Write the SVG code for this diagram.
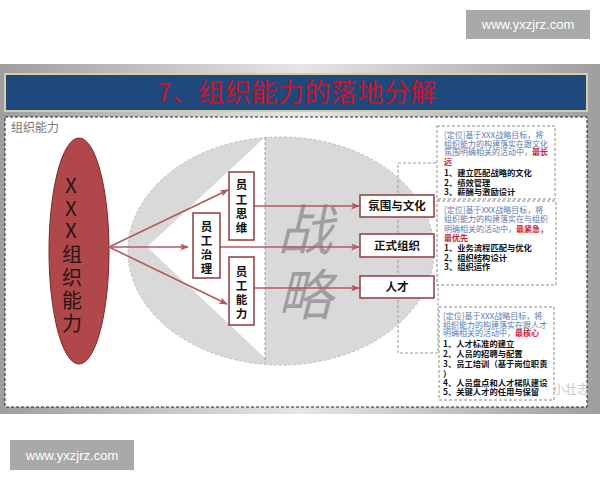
<svg xmlns="http://www.w3.org/2000/svg" width="600" height="480" viewBox="0 0 600 480">
<defs>
<linearGradient id="slideBg" x1="0" y1="0" x2="1" y2="0">
<stop offset="0" stop-color="#9e9e9e"/>
<stop offset="0.5" stop-color="#e6e6e6"/>
<stop offset="1" stop-color="#9e9e9e"/>
</linearGradient>
<marker id="arr" viewBox="0 0 10 8" refX="9" refY="4" markerWidth="9" markerHeight="7" markerUnits="userSpaceOnUse" orient="auto">
<path d="M0,0 L10,4 L0,8 L2.5,4 Z" fill="#b3595e"/>
</marker>
<style>
.wm{fill:#a9a9a9}
.wmt{font-family:"Liberation Sans",Arial,sans-serif;font-size:13px;fill:#ffffff;text-anchor:middle}
.cjk{font-family:"Noto Sans CJK SC","Liberation Sans",sans-serif}
.box{fill:#ffffff;stroke:#8c3c40;stroke-width:1.5}
.bt{font-family:"Noto Sans CJK SC",sans-serif;font-size:11.5px;font-weight:bold;fill:#111;text-anchor:middle}
.con{stroke:#b3595e;stroke-width:1.6;fill:none;marker-end:url(#arr)}
.note{fill:#ffffff;stroke:#8a8a8a;stroke-width:1;stroke-dasharray:3 2}
.nb{font-family:"Noto Sans CJK SC","Liberation Sans",sans-serif;font-size:8px;fill:#5a7ab3}
.nr{fill:#d4202e;font-weight:bold}
.nl{font-family:"Noto Sans CJK SC","Liberation Sans",sans-serif;font-size:8.3px;font-weight:bold;fill:#111}
</style>
</defs>
<rect width="600" height="480" fill="#ffffff"/>
<g id="watermark-top"><rect class="wm" x="466" y="10" width="124" height="29"/><text class="wmt" x="528" y="29">www.yxzjrz.com</text></g>
<g id="watermark-bottom"><rect class="wm" x="10" y="440" width="124" height="30"/><text class="wmt" x="72" y="460">www.yxzjrz.com</text></g>
<rect x="0" y="64" width="600" height="350" fill="url(#slideBg)"/>
<g id="title">
<rect x="5" y="74" width="582" height="37" fill="#1f497d" stroke="#d3cfa8" stroke-width="2"/>
<text class="cjk" x="297" y="102" font-size="26" fill="#c8142a" text-anchor="middle" letter-spacing="0.5">7、组织能力的落地分解</text>
</g>
<rect x="5" y="117" width="582" height="290" fill="#ffffff" stroke="#222" stroke-width="1" stroke-dasharray="3 2"/>
<text class="cjk" x="11" y="132" font-size="12" fill="#777">组织能力</text>
<g id="strategy">
<ellipse cx="281" cy="251" rx="153" ry="114" fill="#d9d9d9" stroke="#bdbdbd" stroke-width="1" stroke-dasharray="3 2"/>
<polygon points="147,247 265,137 265,358" fill="#ffffff"/>
<line x1="265" y1="137" x2="265" y2="363" stroke="#a0a0a0" stroke-width="1" stroke-dasharray="3 2"/>
<text class="cjk" x="305" y="250" font-size="55" font-style="italic" fill="#9e9e9e" text-anchor="middle">战</text>
<text class="cjk" x="305" y="315" font-size="55" font-style="italic" fill="#9e9e9e" text-anchor="middle">略</text>
</g>
<rect x="398" y="163" width="40" height="190" fill="none" stroke="#9a9a9a" stroke-width="1" stroke-dasharray="3 2"/>
<g id="xxx-org">
<ellipse cx="79" cy="251" rx="30" ry="113" fill="#b0474a" stroke="#7a2a2d" stroke-width="1"/>
<text class="cjk" font-size="20" fill="#2a1515" text-anchor="middle"><tspan x="71" y="193">X</tspan><tspan x="71" y="216">X</tspan><tspan x="71" y="238">X</tspan><tspan x="72" y="262">组</tspan><tspan x="72" y="285">织</tspan><tspan x="72" y="308">能</tspan><tspan x="72" y="331">力</tspan></text>
</g>
<g id="connectors">
<line class="con" x1="109" y1="247" x2="228" y2="190"/>
<line class="con" x1="109" y1="247" x2="188" y2="247"/>
<line class="con" x1="109" y1="247" x2="227" y2="304"/>
<line class="con" x1="254" y1="206" x2="359" y2="206"/>
<line class="con" x1="220" y1="247" x2="359" y2="247"/>
<line class="con" x1="254" y1="288" x2="359" y2="288"/>
</g>
<g id="emp-gov"><rect class="box" x="193" y="213" width="27" height="65"/><text class="bt"><tspan x="206.5" y="231">员</tspan><tspan x="206.5" y="245">工</tspan><tspan x="206.5" y="259">治</tspan><tspan x="206.5" y="273">理</tspan></text></g>
<g id="emp-mind"><rect class="box" x="229" y="172" width="25" height="68"/><text class="bt"><tspan x="241.5" y="189">员</tspan><tspan x="241.5" y="203.5">工</tspan><tspan x="241.5" y="218">思</tspan><tspan x="241.5" y="232">维</tspan></text></g>
<g id="emp-ability"><rect class="box" x="229" y="257" width="25" height="68"/><text class="bt"><tspan x="241.5" y="276">员</tspan><tspan x="241.5" y="290">工</tspan><tspan x="241.5" y="304">能</tspan><tspan x="241.5" y="318">力</tspan></text></g>
<g id="culture"><rect class="box" x="360" y="195" width="74" height="22"/><text class="bt" x="397" y="210">氛围与文化</text></g>
<g id="formal-org"><rect class="box" x="360" y="234" width="74" height="23"/><text class="bt" x="397" y="250">正式组织</text></g>
<g id="talent"><rect class="box" x="360" y="276" width="74" height="22"/><text class="bt" x="397" y="291">人才</text></g>
<g id="note-culture">
<rect class="note" x="437" y="126" width="118" height="73"/>
<text class="nb"><tspan x="444" y="138">[定位]基于XXX战略目标，将</tspan><tspan x="444" y="146.5">组织能力的构建落实在跟文化</tspan><tspan x="444" y="155">氛围明确相关的活动中，<tspan class="nr">最长</tspan></tspan><tspan x="444" y="164.5" class="nr">远</tspan></text>
<text class="nl"><tspan x="444" y="175.5">1、建立匹配战略的文化</tspan><tspan x="444" y="185.5">2、绩效管理</tspan><tspan x="444" y="194.5">3、薪酬与激励设计</tspan></text>
</g>
<g id="note-org">
<rect class="note" x="437" y="201" width="119" height="84"/>
<text class="nb"><tspan x="444" y="213">[定位]基于XXX战略目标，将</tspan><tspan x="444" y="222">组织能力的构建落实在与组织</tspan><tspan x="444" y="231.5">明确相关的活动中，<tspan class="nr">最紧急，</tspan></tspan><tspan x="444" y="241" class="nr">最优先</tspan></text>
<text class="nl"><tspan x="444" y="251">1、业务流程匹配与优化</tspan><tspan x="444" y="260.5">2、组织结构设计</tspan><tspan x="444" y="270">3、组织运作</tspan></text>
</g>
<g id="note-talent">
<rect class="note" x="439" y="307" width="115" height="93"/>
<text class="nb"><tspan x="443" y="319">[定位]基于XXX战略目标，将</tspan><tspan x="443" y="327.5">组织能力的构建落实在跟人才</tspan><tspan x="443" y="336">明确相关的活动中，<tspan class="nr">最核心</tspan></tspan></text>
<text class="nl"><tspan x="443" y="346.5">1、人才标准的建立</tspan><tspan x="443" y="356.5">2、人员的招聘与配置</tspan><tspan x="443" y="366.5">3、员工培训（基于岗位职责</tspan><tspan x="443" y="376.5">）</tspan><tspan x="443" y="386">4、人员盘点和人才梯队建设</tspan><tspan x="443" y="395">5、关键人才的任用与保留</tspan></text>
<text class="cjk" x="553" y="394" font-size="12" fill="#bbbbbb" opacity="0.8">小壮志</text>
</g>
</svg>
